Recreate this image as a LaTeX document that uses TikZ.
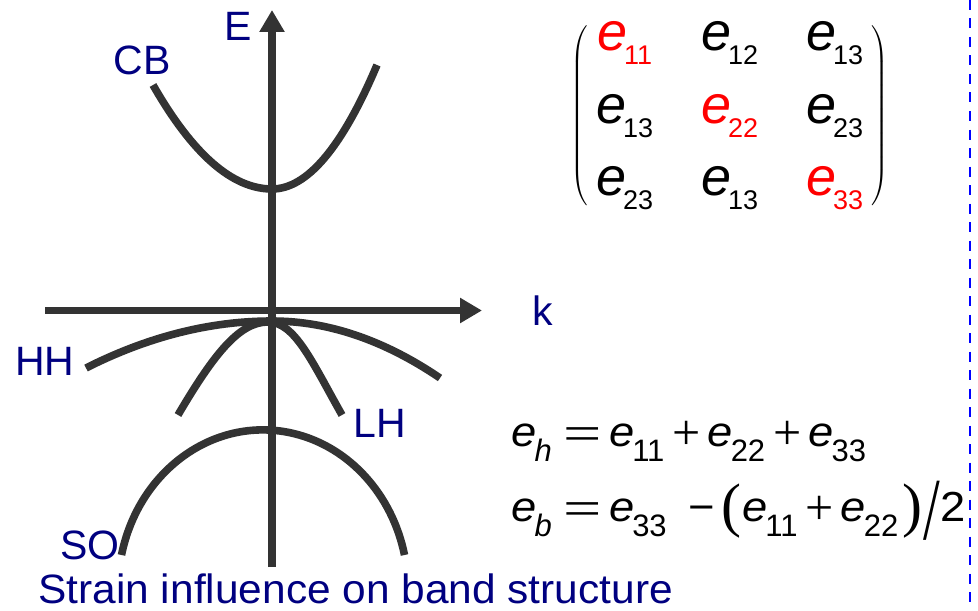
\documentclass[tikz,border=0pt]{standalone}
\usepackage{fontspec}
\setmainfont{Liberation Sans}
\newfontfamily\capfont{Liberation Sans}[FakeStretch=1.035]
\newfontfamily\eqfont{Liberation Sans}[FakeStretch=1.08]
\newfontfamily\opfont{Liberation Serif}
\usepackage{graphicx}
\usetikzlibrary{arrows.meta,matrix,positioning}
\definecolor{bandgray}{RGB}{51,51,51}
\definecolor{navy}{RGB}{0,0,128}
% strain components: tensor entry and equation term
\newcommand{\ment}[1]{{\itshape e}\kern-0.07em\raisebox{-7pt}{\fontsize{13.5}{13.5}\selectfont #1}}
\newcommand{\eqt}[1]{{\itshape e}\kern-0.05em\raisebox{-7.5pt}{\rmfamily\fontsize{15.5}{15.5}\selectfont #1}}
% operators and delimiters
\newcommand{\opeq}{\hspace{6pt}\raisebox{-2.3pt}{\scalebox{1.36}[1]{\opfont\fontsize{25}{25}\selectfont=}}\hspace{3.5pt}}
\newcommand{\opplus}{\hspace{4pt}\raisebox{-1.8pt}{\opfont\fontsize{25}{25}\selectfont+}\hspace{3.5pt}}
\newcommand{\opminus}{\hspace{11pt}−\hspace{3pt}}
\newcommand{\bigdel}[1]{\raisebox{-2.2pt}{\opfont\fontsize{30}{30}\selectfont #1}}
\newcommand{\bigslash}{\raisebox{-9.4pt}{\scalebox{1.2}[1.77]{\opfont\fontsize{25}{25}\selectfont/}}}
\tikzset{
  band/.style={draw=bandgray, line width=3.8pt},
  axis/.style={draw=bandgray, line width=3.8pt, -{Triangle[length=11pt,width=12pt]}},
  lbl/.style={text=navy, font=\fontsize{20.5}{24}\selectfont, inner sep=0pt}
}

\begin{document}
\begin{tikzpicture}[x=0.5pt, y=-0.5pt,
  cell/.style={font=\fontsize{27}{30}\selectfont, inner ysep=0pt},
  eqn/.style={font=\eqfont\fontsize{21}{24}\selectfont, anchor=base west, inner sep=0pt},
  sep/.style={draw=blue, line width=1pt, dash pattern=on 5pt off 4.25pt},
  every left delimiter/.style={xshift=-3pt},
  every right delimiter/.style={xshift=3pt}
]
\useasboundingbox (0,0) rectangle (978,610);
% ---- axes ----
\coordinate (eBot) at (272,567);
\coordinate (eTop) at (272,10);
\coordinate (kL) at (45,310.5);
\coordinate (kR) at (482,310.5);
\draw[axis] (eBot) -- (eTop);
\draw[axis] (kL) -- (kR);
\node[lbl] (Elbl) at (238,26) {E};
\node[lbl] (klbl) at (543,311) {k};
% ---- bands ----
\draw[band] (153,85) .. controls (192.7,154.3) and (232.3,189) .. (272,189)
  .. controls (307,189) and (342,147.7) .. (377,65);
\draw[band] (86,368) .. controls (148,336.7) and (210,321) .. (272,321)
  .. controls (328,321) and (384,340) .. (440,378);
\draw[band] (178,415) .. controls (215,352) and (240,322) .. (268,322)
  .. controls (295,322) and (312,362) .. (342,415);
\draw[band] (121.5,555) arc[start angle=192.6, end angle=347.4, x radius=145, y radius=160];
\node[lbl] (CB) at (142,60) {CB};
\node[lbl] (HH) at (45,361) {HH};
\node[lbl] (LH) at (380,423) {LH};
\node[lbl] (SO) at (90,545) {SO};
\node[lbl, font=\capfont\fontsize{20.5}{24}\selectfont, anchor=base west] (caption) at (38,603) {Strain influence on band structure};
% ---- strain tensor ----
\matrix (strain) [matrix of nodes, nodes={cell, anchor=base}, inner sep=0pt,
  row sep={36.25pt,between origins}, column sep={52.5pt,between origins},
  left delimiter=(, right delimiter=),
  matrix anchor=strain-2-2.base] at (730,123) {
  |[text=red]| \ment{11} & \ment{12} & \ment{13} \\
  \ment{13} & |[text=red]| \ment{22} & \ment{23} \\
  \ment{23} & \ment{13} & |[text=red]| \ment{33} \\
};
% ---- hydrostatic and biaxial parts ----
\node[eqn] (eh) at (511,446) {\eqt{\itshape h}\opeq\eqt{11}\opplus\eqt{22}\opplus\eqt{33}};
\node[eqn] (eb) at (511,521) {\eqt{\itshape b}\opeq\eqt{33}\opminus\bigdel{(}\hspace{0.5pt}\eqt{11}\opplus\eqt{22}\hspace{2pt}\bigdel{)}\hspace{0.5pt}\bigslash\hspace{0.5pt}2};
% ---- separator ----
\coordinate (sepT) at (970,0);
\coordinate (sepB) at (970,610);
\draw[sep] (sepT) -- (sepB);
\end{tikzpicture}
\end{document}
